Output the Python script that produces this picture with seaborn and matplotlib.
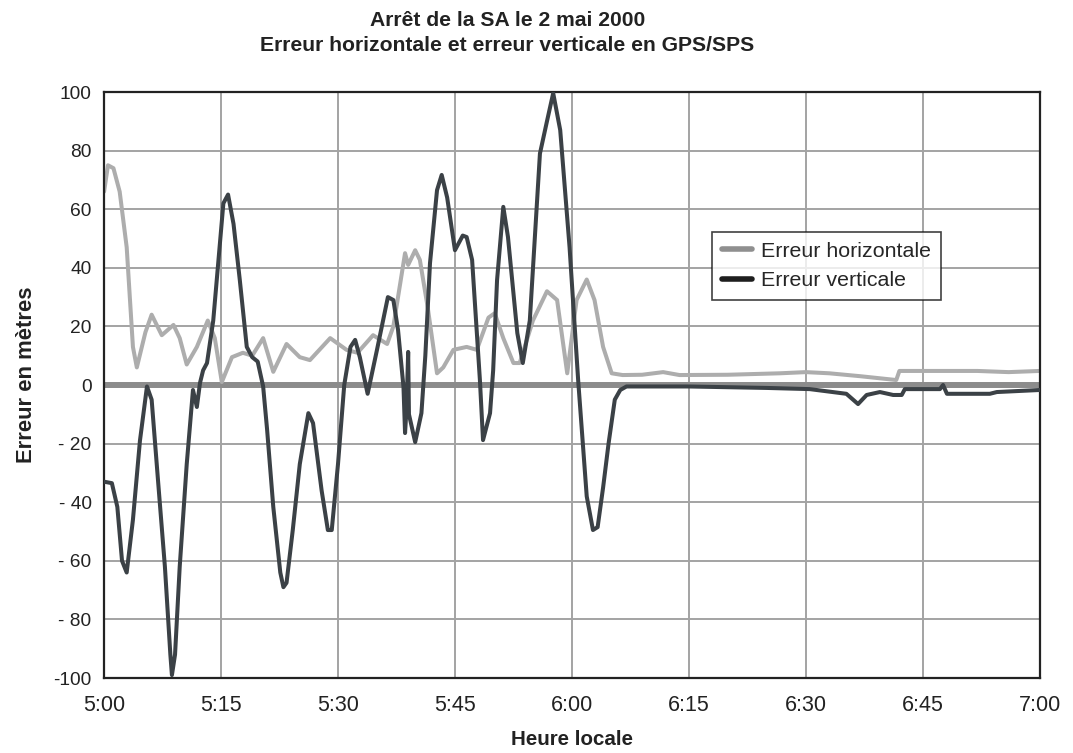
import numpy as np
import pandas as pd
import seaborn as sns
import matplotlib.pyplot as plt

# --- DATA (minutes after 5:00, metres) ---
t_horiz = [0, 0.5, 1.2, 2, 2.9, 3.7, 4.2, 5.3, 6.1, 7.4, 8.9, 9.7, 10.6, 11.9, 13.3,
           14.2, 15.1, 16.4, 17.8, 19, 20.4, 21.7, 23.4, 25.1, 26.4, 29, 31.1, 32.5,
           34.5, 36.3, 37.1, 38.6, 39, 39.9, 40.5, 41.5, 42.7, 43.5, 44.8, 46.5, 47.8,
           49.3, 50.1, 51.2, 52.5, 53.3, 55, 56.8, 58.1, 59.4, 60.6, 61.9, 62.9, 64,
           65.1, 66.5, 69, 71.7, 73.8, 80, 86.7, 90, 93, 97, 101.6, 102, 112, 116, 120]
v_horiz = [66, 75, 74, 66, 47, 13, 6, 18, 24, 17, 20.5, 16, 7, 13, 22,
           16, 1, 9.5, 11, 10, 16, 4.5, 14, 9.5, 8.5, 16, 12, 11,
           17, 14, 20, 45, 41, 46, 42.7, 26.6, 4, 6, 12, 13, 12,
           23, 24.5, 16, 7.5, 7.5, 22, 32, 29, 4, 29, 36, 29, 13,
           4, 3.4, 3.5, 4.4, 3.4, 3.5, 4, 4.4, 4, 3, 1.7, 4.8, 4.8, 4.4, 4.8]

t_vert = [0, 1, 1.7, 2.3, 2.9, 3.7, 4.6, 5.5, 6.1, 6.9, 7.8, 8.5, 8.7, 9.1, 9.7,
          10.6, 11.4, 11.9, 12.3, 12.7, 13.2, 14, 15.3, 15.9, 16.6, 17.4, 18.3, 19,
          19.7, 20.4, 20.9, 21.7, 22.6, 23, 23.4, 24.2, 25.1, 26.2, 26.8, 27.9, 28.7,
          29.2, 30, 30.8, 31.6, 32.2, 32.8, 33.8, 35, 36.4, 37.1, 37.7, 38.4, 38.6,
          38.8, 39.0, 39.1, 39.9, 40.7, 41.2, 41.8, 42.7, 43.3, 44, 45, 46, 46.5,
          47.2, 48.2, 48.6, 49.5, 49.9, 50.4, 51.2, 51.8, 53, 53.7, 54.6, 55.9, 56.8,
          57.6, 58.5, 59.7, 60.8, 61.9, 62.7, 63.3, 64, 64.7, 65.5, 66.2, 67, 75, 85,
          90.5, 95.2, 96.7, 97.8, 99.5, 101.2, 102.3, 102.7, 107.2, 107.6, 108.1,
          113.6, 114.5, 120]
v_vert = [-33, -33.5, -41.6, -60, -64, -46, -19, -0.5, -5, -32, -62, -92, -99, -92, -62,
          -27, -1.7, -7.5, 0.7, 5, 7.5, 22, 62, 65, 55, 36, 13, 9.5,
          8, -0.5, -15, -41.6, -64, -69, -67.5, -49.5, -27, -9.6, -13, -36, -49.5,
          -49.5, -27, 0, 13, 15.4, 9.5, -3, 12, 30, 29, 18.8, -0.7, -16.4,
          -7.5, 11.3, -10, -19.5, -9.6, 10, 41.6, 66.5, 71.7, 64, 46, 51, 50.5,
          42.7, 1.7, -18.8, -9.6, 5, 35.8, 60.8, 50.5, 17.7, 7.5, 22, 79, 90,
          99.6, 87, 47, 1.7, -38, -49.5, -48.5, -35, -20, -5, -1.7, -0.5, -0.5, -1,
          -1.4, -3, -6.5, -3.4, -2.4, -3.4, -3.4, -1.4, -1.4, 0, -3,
          -3, -2.4, -1.7]

x_ticks = list(range(0, 121, 15))
x_labels = ['5:00', '5:15', '5:30', '5:45', '6:00', '6:15', '6:30', '6:45', '7:00']
y_ticks = list(range(-100, 101, 20))
y_labels = ['-100', '- 80', '- 60', '- 40', '- 20', '0', '20', '40', '60', '80', '100']

df_h = pd.DataFrame({'t': t_horiz, 'v': v_horiz})
df_v = pd.DataFrame({'t': t_vert, 'v': v_vert})

sns.set_style("white")
plt.rcParams['font.family'] = ['Liberation Sans', 'DejaVu Sans']

fig = plt.figure(figsize=(10.73, 7.53), dpi=100)
ax = fig.add_axes([0.097, 0.0996, 0.872, 0.7782])

# grid
for x in x_ticks:
    ax.axvline(x, color='#a3a3a3', lw=1.4, zorder=0)
for y in y_ticks:
    ax.axhline(y, color='#a3a3a3', lw=1.4, zorder=0)

ax.axhline(0, color='#8c8c8c', lw=4.3, zorder=1)

sns.lineplot(data=df_h, x='t', y='v', ax=ax, color='#adadad', lw=2.9,
             label='Erreur horizontale', zorder=2)
sns.lineplot(data=df_v, x='t', y='v', ax=ax, color='#3b4146', lw=2.9,
             label='Erreur verticale', zorder=3)

ax.set_xlim(0, 120)
ax.set_ylim(-100, 100)
ax.set_xticks(x_ticks)
ax.set_xticklabels(x_labels, fontsize=15.5, color='#222222')
ax.set_yticks(y_ticks)
ax.set_yticklabels(y_labels, fontsize=13.8, color='#222222')
ax.tick_params(axis='both', direction='out', length=4, width=1, color='#555555')
ax.tick_params(axis='x', pad=8)
ax.tick_params(axis='y', pad=5)

for s in ax.spines.values():
    s.set_color('#222222')
    s.set_linewidth(1.6)

ax.set_xlabel('Heure locale', fontsize=14.8, fontweight='bold', color='#222222')
ax.xaxis.set_label_coords(0.5, -0.088)
ax.xaxis.label.set_va('top')
ax.set_ylabel('Erreur en mètres', fontsize=15.8, fontweight='bold', color='#222222')
ax.yaxis.set_label_coords(-0.072, 0.517)

fig.suptitle('Arrêt de la SA le 2 mai 2000\nErreur horizontale et erreur verticale en GPS/SPS',
             fontsize=15.2, fontweight='bold', x=0.473, y=0.985, linespacing=1.4,
             color='#222222')

leg = ax.legend(loc='upper left', bbox_to_anchor=(0.65, 0.761), borderaxespad=0,
                fontsize=15.4, frameon=True, fancybox=False, borderpad=0.45,
                handlelength=1.4, handletextpad=0.45, labelspacing=0.5)
leg.get_frame().set_edgecolor('#111111')
leg.get_frame().set_linewidth(1.2)
leg.get_lines()[0].set_color('#8f8f8f')
leg.get_lines()[1].set_color('#1e1e1e')
for line in leg.get_lines():
    line.set_linewidth(4)

plt.savefig('out.png', dpi=100)
